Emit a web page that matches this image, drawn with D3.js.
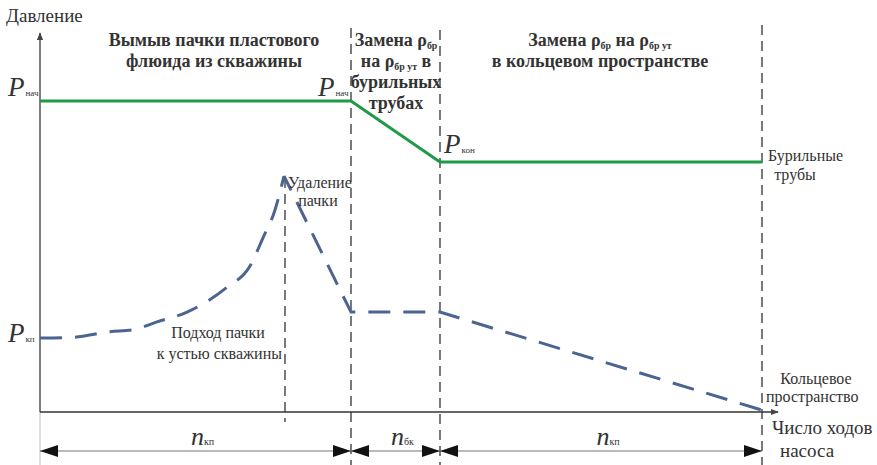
<!DOCTYPE html>
<html>
<head>
<meta charset="utf-8">
<script src="https://cdn.jsdelivr.net/npm/d3@7"></script>
<style>
  body { margin: 0; background: #fff; }
</style>
</head>
<body>
<div id="chart"></div>
<script>
const FONT = "Liberation Serif";

// stage boundaries (pump strokes)
const boundaries = [245, 311, 400, 722];

// drill pipe pressure
const pipePressure = [
    {x: 0, y: 82.5},
    {x: 311, y: 82.5},
    {x: 400, y: 66.3},
    {x: 722, y: 66.3}
];

// annulus pressure (dashed)
const annulusPressure = [
    {x: 0, y: 19.6}, {x: 33, y: 19.8}, {x: 70, y: 21.3}, {x: 93, y: 21.8},
    {x: 117, y: 23.9}, {x: 147, y: 26.5}, {x: 187, y: 33.1}, {x: 210, y: 38.7},
    {x: 223, y: 46.2}, {x: 235, y: 53.6}, {x: 244, y: 62.6},
    {x: 311, y: 26.5}, {x: 400, y: 26.5}, {x: 722, y: 0.5}
];

const dimLabels = [
    {from: 0, to: 311, main: "n", sub: "кп"},
    {from: 311, to: 400, main: "n", sub: "бк"},
    {from: 400, to: 722, main: "n", sub: "кп"}
];

const width = 877, height = 465;
const svg = d3.select("#chart").append("svg")
    .attr("width", width)
    .attr("height", height);

const x = d3.scaleLinear().domain([0, 730]).range([40, 770]);
const y = d3.scaleLinear().domain([0, 100]).range([412, 35]);

const defs = svg.append("defs");
defs.append("marker").attr("id", "axisArrow")
    .attr("viewBox", "0 0 10 10").attr("refX", 9).attr("refY", 5)
    .attr("markerWidth", 8).attr("markerHeight", 8).attr("markerUnits", "userSpaceOnUse")
    .attr("orient", "auto")
    .append("path").attr("d", "M0,1 L10,5 L0,9 Z").attr("fill", "#444");
defs.append("marker").attr("id", "dimArrow")
    .attr("viewBox", "0 0 18 12").attr("refX", 18).attr("refY", 6)
    .attr("markerWidth", 18).attr("markerHeight", 12).attr("markerUnits", "userSpaceOnUse")
    .attr("orient", "auto-start-reverse")
    .append("path").attr("d", "M0,0 L18,6 L0,12 Z").attr("fill", "#111");

// vertical dashed separators
const vLines = [
    {x: boundaries[0], y1: 178, y2: 422},
    {x: boundaries[1], y1: 28, y2: 465},
    {x: boundaries[2], y1: 30, y2: 465},
    {x: boundaries[3], y1: 25, y2: 465}
];
svg.selectAll(".sep").data(vLines).enter().append("line")
    .attr("x1", d => x(d.x)).attr("x2", d => x(d.x))
    .attr("y1", d => d.y1).attr("y2", d => d.y2)
    .attr("stroke", "#333").attr("stroke-width", 1.3)
    .attr("stroke-dasharray", "10,6");

// light extension line at origin
svg.append("line")
    .attr("x1", x(0)).attr("x2", x(0)).attr("y1", y(0)).attr("y2", 465)
    .attr("stroke", "#bbb").attr("stroke-width", 1);

// axes
svg.append("line")
    .attr("x1", x(0)).attr("x2", x(0)).attr("y1", y(0)).attr("y2", 33)
    .attr("stroke", "#555").attr("stroke-width", 1.5)
    .attr("marker-end", "url(#axisArrow)");
svg.append("line")
    .attr("x1", x(0)).attr("x2", 778).attr("y1", y(0)).attr("y2", y(0))
    .attr("stroke", "#333").attr("stroke-width", 1.3)
    .attr("marker-end", "url(#axisArrow)");

// lines
const line = d3.line().x(d => x(d.x)).y(d => y(d.y));
svg.append("path").datum(pipePressure)
    .attr("d", line)
    .attr("fill", "none").attr("stroke", "#1f9a48").attr("stroke-width", 3);

const curvePart = annulusPressure.slice(0, 11);
const straightPart = annulusPressure.slice(10);
svg.append("path").datum(curvePart)
    .attr("d", d3.line().x(d => x(d.x)).y(d => y(d.y)).curve(d3.curveMonotoneX))
    .attr("fill", "none").attr("stroke", "#4b6491").attr("stroke-width", 3)
    .attr("stroke-dasharray", "22,13");
svg.append("path").datum(straightPart)
    .attr("d", line)
    .attr("fill", "none").attr("stroke", "#4b6491").attr("stroke-width", 3)
    .attr("stroke-dasharray", "22,13")
    .attr("stroke-dashoffset", 6);

// generic text helper
function txt(px, py, anchor, size, weight) {
    return svg.append("text")
        .attr("x", px).attr("y", py)
        .attr("text-anchor", anchor || "start")
        .attr("font-family", FONT)
        .attr("font-size", size || 16)
        .attr("font-weight", weight || "normal")
        .attr("fill", "#333");
}

// dimension arrows
const dimY = 451;
dimLabels.forEach(d => {
    svg.append("line")
        .attr("x1", x(d.from)).attr("x2", x(d.to))
        .attr("y1", dimY).attr("y2", dimY)
        .attr("stroke", "#777").attr("stroke-width", 1)
        .attr("marker-start", "url(#dimArrow)").attr("marker-end", "url(#dimArrow)");
    const t = txt((x(d.from) + x(d.to)) / 2 + 7, 445, "middle", 26);
    t.append("tspan").text(d.main).attr("font-style", "italic");
    t.append("tspan").text(d.sub).attr("font-size", 10);
});

// stage titles
function multiText(lines, cx, y0, dy, size) {
    lines.forEach((l, i) => {
        const t = txt(cx, y0 + i * dy, "middle", size, "bold");
        l.forEach(p => {
            const s = t.append("tspan").text(p.t);
            if (p.sub) s.attr("font-size", size * 0.55).attr("dy", 3);
            if (p.up) s.attr("dy", -3);
        });
    });
}
multiText([[{t: "Вымыв пачки пластового"}], [{t: "флюида из скважины"}]], 214, 46, 21, 18);
multiText([
    [{t: "Замена ρ"}, {t: "бр", sub: true}],
    [{t: "на ρ"}, {t: "бр ут", sub: true}, {t: " в", up: true}],
    [{t: "бурильных"}],
    [{t: "трубах"}]
], 396, 46, 21, 18);
multiText([
    [{t: "Замена ρ"}, {t: "бр", sub: true}, {t: " на ρ", up: true}, {t: "бр ут", sub: true}],
    [{t: "в кольцевом пространстве"}]
], 600, 46, 21, 18);

// pressure labels
function pLabel(px, py, sub) {
    const t = txt(px, py, "start", 27);
    t.append("tspan").text("P").attr("font-style", "italic");
    t.append("tspan").text(sub).attr("font-size", 9).attr("dx", 1);
}
pLabel(8, y(82.5) - 5, "нач");
pLabel(318, y(82.5) - 5, "нач");
pLabel(444, y(66.3) - 9, "кон");
pLabel(8, y(19.6) + 4, "кп");

// annotations
txt(6, 22, "start", 19).text("Давление");
txt(288, 188).text("Удаление");
txt(318, 206, "middle").text("пачки");
txt(218, 338, "middle").text("Подход пачки");
txt(282, 359, "end").text("к устью скважины");
txt(768, 161).text("Бурильные");
txt(795, 180, "middle").text("трубы");
txt(816, 384, "middle").text("Кольцевое");
txt(766, 402).text("пространство");
txt(772, 434, "start", 19).text("Число ходов");
txt(780, 457, "start", 19).text("насоса");
</script>
</body>
</html>
